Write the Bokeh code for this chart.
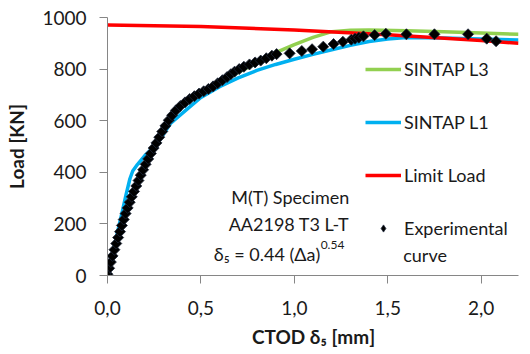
from bokeh.plotting import figure
from bokeh.models import Legend, LegendItem, Label, FixedTicker, Range1d
from bokeh.embed import file_html
from bokeh.resources import INLINE

# Experimental curve (CTOD delta5 [mm], Load [kN])
exp_x = [0.000, 0.009, 0.018, 0.027, 0.037, 0.047, 0.057, 0.067, 0.077, 0.087,
         0.097, 0.108, 0.119, 0.130, 0.142, 0.154, 0.166, 0.178, 0.191, 0.204,
         0.218, 0.232, 0.247, 0.262, 0.277, 0.293, 0.310, 0.328, 0.346, 0.366,
         0.390, 0.415, 0.440, 0.465, 0.490, 0.515, 0.540, 0.565, 0.590, 0.615,
         0.640, 0.660, 0.680, 0.705, 0.730, 0.760, 0.790, 0.820, 0.850, 0.880,
         0.905, 0.975, 1.040, 1.095, 1.155, 1.210, 1.260, 1.305, 1.325, 1.345,
         1.370, 1.430, 1.490, 1.600, 1.750, 1.930, 2.030, 2.080]
exp_y = [5, 28, 52, 76, 100, 124, 147, 170, 194, 217,
         240, 262, 284, 305, 326, 347, 368, 389, 410, 431,
         452, 473, 494, 514, 536, 558, 580, 602, 621, 640,
         657, 671, 684, 695, 705, 714, 723, 733, 745, 757,
         769, 780, 790, 800, 809, 818, 826, 833, 842, 852,
         858, 861, 870, 877, 887, 897, 906, 914, 918, 922,
         927, 932, 937, 935, 935, 935, 918, 908]

# SINTAP level 3
l3_x = [0.0, 0.05, 0.10, 0.15, 0.20, 0.25, 0.30, 0.35, 0.40, 0.50, 0.60, 0.70,
        0.80, 0.90, 1.00, 1.10, 1.20, 1.30, 1.40, 1.60, 1.80, 2.00, 2.20]
l3_y = [0, 122, 245, 333, 418, 498, 565, 618, 658, 703, 743, 788,
        823, 864, 895, 923, 945, 951, 952, 949, 945, 940, 935]

# SINTAP level 1
l1_x = [0.0, 0.04, 0.08, 0.10, 0.12, 0.135, 0.16, 0.20, 0.266, 0.337, 0.426,
        0.50, 0.60, 0.70, 0.80, 0.90, 1.00, 1.10, 1.20, 1.30, 1.40,
        1.50, 1.60, 1.80, 2.00, 2.20]
l1_y = [0, 125, 250, 315, 375, 405, 430, 465, 511, 589, 645,
        690, 732, 766, 795, 818, 838, 857, 875, 892, 907,
        917, 922, 921, 917, 913]

# Limit load
ll_x = [0.0, 0.5, 1.0, 1.5, 2.0, 2.2]
ll_y = [971, 965, 952, 933, 911, 900]

x_ticks = [0.0, 0.5, 1.0, 1.5, 2.0]
x_tick_labels = ["0,0", "0,5", "1,0", "1,5", "2,0"]
y_ticks = [0, 200, 400, 600, 800, 1000]

FONT = "Lato"
TXT = "#1a1a1a"

p = figure(width=530, height=354, x_range=Range1d(0, 2.2), y_range=Range1d(0, 1000),
           output_backend="svg", toolbar_location=None,
           min_border_left=107, min_border_right=12, min_border_top=17, min_border_bottom=79)
p.outline_line_color = None
p.xgrid.visible = False
p.ygrid.visible = False
p.background_fill_color = "white"
p.border_fill_color = "white"

for ax in (p.xaxis[0], p.yaxis[0]):
    ax.axis_line_color = "#868686"
    ax.major_tick_line_color = "#868686"
    ax.minor_tick_line_color = None
    ax.major_tick_in = 0
    ax.major_tick_out = 8
    ax.major_label_text_font = FONT
    ax.major_label_text_font_size = "19px"
    ax.major_label_text_color = TXT
    ax.axis_label_text_font = FONT
    ax.axis_label_text_font_size = "19px"
    ax.axis_label_text_font_style = "bold"
    ax.axis_label_text_color = TXT

p.xaxis.ticker = FixedTicker(ticks=x_ticks)
p.xaxis.major_label_overrides = {t: l for t, l in zip(x_ticks, x_tick_labels)}
p.yaxis.ticker = FixedTicker(ticks=y_ticks)
p.xaxis.axis_label = "CTOD δ₅ [mm]"
p.yaxis.axis_label = "Load [KN]"
p.xaxis.major_label_standoff = 17
p.yaxis.major_label_standoff = 13
p.xaxis.axis_label_standoff = 7
p.yaxis.axis_label_standoff = 11

r_l3 = p.line(l3_x, l3_y, line_color="#92D050", line_width=3.5)
r_l1 = p.line(l1_x, l1_y, line_color="#00B0F0", line_width=3.5)
r_ll = p.line(ll_x, ll_y, line_color="#FF0000", line_width=3.5)
r_exp = p.scatter(exp_x, exp_y, marker="square", angle=0.785398, size=7.8,
                  fill_color="black", line_color="#1c2638", line_width=0.8)
# diamond key for the legend (drawn on the first experimental point)
r_exp_key = p.scatter(x=exp_x[:1], y=exp_y[:1], marker="diamond", size=10,
                      fill_color="black", line_color="#1c2638", line_width=0.8)

legend = Legend(items=[
    LegendItem(label="SINTAP L3", renderers=[r_l3]),
    LegendItem(label="SINTAP L1", renderers=[r_l1]),
    LegendItem(label="Limit Load", renderers=[r_ll]),
    LegendItem(label="Experimental", renderers=[r_exp_key]),
], location=(258, 36), orientation="vertical")
legend.background_fill_alpha = 0
legend.border_line_color = None
legend.padding = 0
legend.margin = 0
legend.glyph_width = 36
legend.glyph_height = 18
legend.label_standoff = 3
legend.spacing = 31
legend.label_text_font = FONT
legend.label_text_font_size = "18px"
legend.label_text_color = TXT
legend.label_text_baseline = "middle"
p.add_layout(legend)

p.add_layout(Label(x=1.583, y=78, text="curve", text_font=FONT, text_font_size="18px",
                   text_color=TXT, text_align="left", text_baseline="middle"))

ann_style = dict(text_font=FONT, text_font_size="18px", text_color=TXT,
                 text_align="right", text_baseline="middle")
p.add_layout(Label(x=1.294, y=305, text="M(T) Specimen", **ann_style))
p.add_layout(Label(x=1.294, y=200, text="AA2198 T3 L-T", **ann_style))
p.add_layout(Label(x=1.139, y=84, text="δ₅ = 0.44 (Δa)", **ann_style))
p.add_layout(Label(x=1.141, y=120, text="0.54", text_font=FONT, text_font_size="12px",
                   text_color=TXT, text_align="left", text_baseline="middle"))

open("out.html", "w").write(file_html(p, INLINE))
